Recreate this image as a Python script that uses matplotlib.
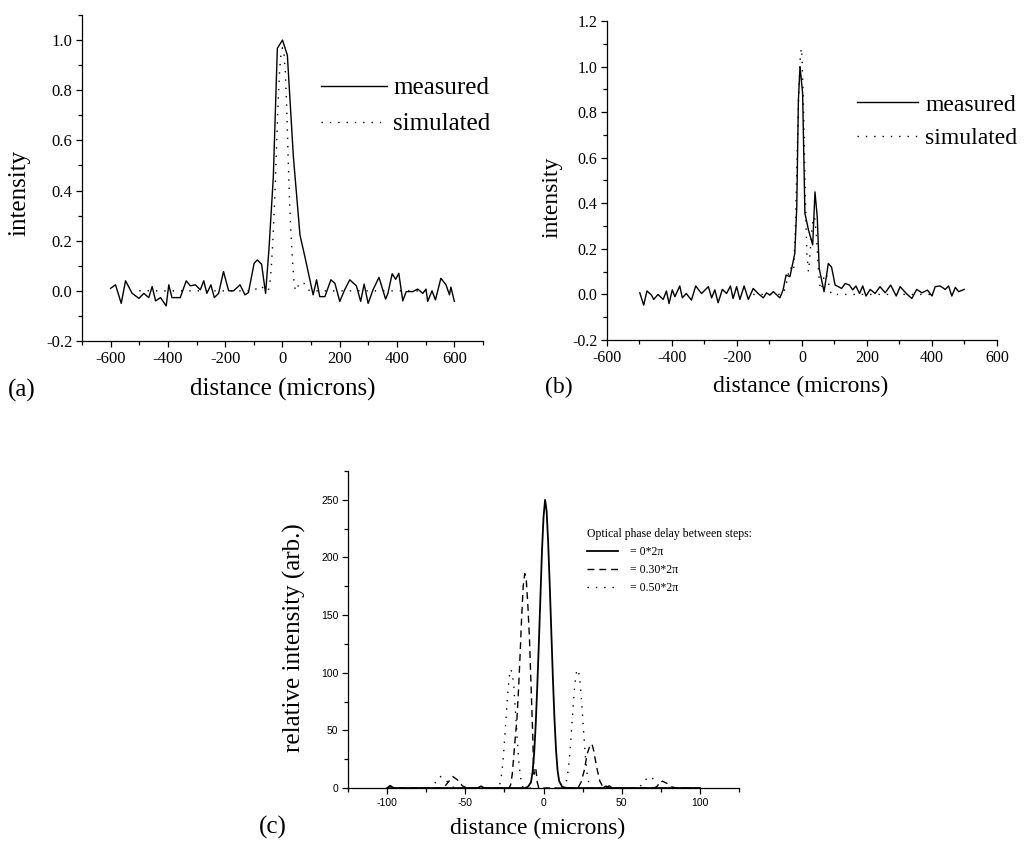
import numpy as np
import matplotlib
matplotlib.use('Agg')
import matplotlib.pyplot as plt
from matplotlib.ticker import MultipleLocator

plt.rcParams['font.family'] = ['Liberation Serif', 'DejaVu Serif']
plt.rcParams['axes.unicode_minus'] = False

# ---- panel (a): measured vs simulated ----
meas_a_x = [-600, -583, -563, -548, -525, -501, -484, -467, -455, -443, -426, -406, -397, -386,
            -357, -336, -322, -304, -287, -275, -264, -250, -238, -223, -206, -188, -171, -148,
            -131, -119, -99, -88, -73, -59, -47, -32, -18, 0, 17, 38, 61, 78, 107, 119, 130,
            148, 169, 183, 200, 217, 235, 258, 273, 285, 299, 316, 337, 360, 368, 383, 395, 406,
            420, 432, 455, 472, 490, 501, 507, 522, 534, 553, 571, 583, 588, 600]
meas_a_y = [0.01, 0.024, -0.05, 0.04, -0.01, -0.03, -0.01, -0.027, 0.017, -0.04, -0.027, -0.06,
            0.024, -0.027, -0.027, 0.04, 0.02, 0.024, 0.004, 0.04, -0.01, 0.024, -0.027, -0.01,
            0.077, 0.0, 0.0, 0.024, -0.016, -0.007, 0.11, 0.123, 0.106, -0.01, 0.17, 0.455, 0.967,
            1.0, 0.94, 0.535, 0.223, 0.137, -0.016, 0.044, -0.023, -0.023, 0.044, 0.03, -0.042,
            0.004, 0.044, 0.02, -0.042, 0.027, -0.05, 0.004, 0.054, -0.033, -0.01, 0.068, 0.046,
            0.07, -0.04, -0.003, -0.003, 0.007, -0.01, 0.007, -0.042, 0.0, -0.036, 0.05, 0.024,
            -0.016, 0.015, -0.042]
sim_a_x = [-500, -100, -85, -75, -62, -50, -45, -40, -35, -30, -25, -20, -15, -10, -5, 0, 5, 10,
           15, 20, 25, 30, 35, 40, 45, 55, 65, 75, 85, 95, 500]
sim_a_y = [0, 0, 0.015, 0.02, 0.005, 0.0, 0.02, 0.08, 0.17, 0.29, 0.43, 0.6, 0.76, 0.88, 0.95,
           0.97, 0.95, 0.87, 0.72, 0.52, 0.35, 0.22, 0.12, 0.04, 0.0, 0.02, 0.035, 0.03, 0.01, 0, 0]

# ---- panel (b): measured vs simulated ----
meas_b_x = [-499, -487, -477, -463, -456, -443, -427, -417, -409, -399, -391, -376, -368, -356,
            -340, -327, -309, -288, -278, -268, -258, -245, -232, -220, -212, -201, -191, -178,
            -165, -150, -135, -119, -109, -99, -88, -68, -58, -49, -37, -22, -16, -11, -6, 2, 9,
            20, 33, 40, 47, 53, 68, 81, 91, 102, 112, 122, 133, 146, 156, 166, 177, 187, 197,
            210, 225, 240, 256, 273, 290, 302, 321, 338, 353, 369, 386, 400, 410, 425, 441, 451,
            461, 472, 482, 499]
meas_b_y = [0.007, -0.047, 0.015, -0.003, -0.022, 0.0, -0.022, 0.015, -0.04, 0.02, -0.01, 0.037,
            -0.015, 0.004, -0.025, 0.037, 0.004, 0.034, -0.015, 0.02, -0.037, 0.022, 0.004, 0.037,
            -0.018, 0.034, -0.022, 0.037, -0.022, 0.026, 0.004, -0.015, 0.007, -0.003, 0.012,
            -0.015, 0.02, 0.085, 0.078, 0.18, 0.385, 0.854, 1.0, 0.883, 0.356, 0.283, 0.217, 0.45,
            0.34, 0.114, 0.012, 0.136, 0.12, 0.041, 0.034, 0.026, 0.048, 0.041, 0.02, 0.037,
            0.004, 0.037, -0.007, 0.022, 0.004, 0.034, 0.007, 0.041, -0.007, 0.034, 0.004,
            -0.018, 0.022, 0.007, 0.019, -0.007, 0.034, 0.037, 0.022, 0.037, -0.007, 0.031,
            0.012, 0.022]
sim_b_x = [-150, -60, -50, -45, -40, -35, -30, -25, -20, -15, -10, -5, -2, 0, 5, 10, 15, 20, 25,
           30, 35, 40, 45, 50, 55, 60, 65, 70, 75, 80, 85, 90, 100, 410]
sim_b_y = [0, 0, 0.03, 0.07, 0.1, 0.12, 0.1, 0.12, 0.3, 0.6, 0.88, 1.05, 1.08, 1.05, 0.8, 0.45,
           0.18, 0.1, 0.18, 0.28, 0.34, 0.33, 0.25, 0.12, 0.04, 0.02, 0.06, 0.09, 0.09, 0.06,
           0.03, 0.0, 0, 0]

# ---- panel (c): simulated phase delays ----
c0_x = [-100, -98, -96, -42, -40, -38, -12, -10, -8, -7, -6, -5, -4, -3, -2, -1, 0, 1, 2, 3, 4,
        5, 6, 7, 8, 9, 10, 12, 15, 38, 40, 42, 100]
c0_y = [0, 2, 0, 0, 1.5, 0, 0, 1, 5, 14, 30, 55, 88, 125, 165, 205, 235, 250, 240, 212, 175,
        135, 95, 60, 33, 15, 6, 1, 0, 0, 1.5, 0, 0]
c30_x = [-100, -64, -61, -58, -55, -52, -49, -22, -21, -20, -19, -18, -17, -16, -15, -14, -13,
         -12, -11, -10, -9, -8, -7, -6.5, -6, -5.5, -5, -4.5, -4, -3, 22, 24, 26, 28, 30, 31,
         32, 34, 36, 38, 40, 42, 44, 71, 74, 76, 79, 82, 85, 100]
c30_y = [0, 0, 5, 10, 7, 2, 0, 0, 3, 12, 28, 45, 60, 85, 115, 148, 175, 186, 180, 158, 130, 90,
         50, 25, 12, 14, 17, 12, 5, 0, 0, 5, 15, 30, 38, 38, 33, 18, 6, 1, 0, 2, 0, 0, 3, 6, 4,
         1, 0, 0]
c50_x = [-100, -72, -69, -66, -63, -60, -57, -29, -28, -27, -26, -25, -24, -23, -22, -21, -20,
         -19, -18, -17, -16, -15, -14, -13, 13, 14, 15, 16, 17, 18, 19, 20, 21, 22, 23, 24, 25,
         26, 27, 28, 29, 30, 61, 64, 67, 70, 73, 76, 100]
c50_y = [0, 0, 5, 10, 8, 3, 0, 0, 3, 10, 22, 40, 60, 80, 96, 103, 100, 88, 68, 46, 26, 12, 4, 0,
         0, 3, 8, 18, 33, 52, 72, 90, 100, 103, 97, 82, 62, 42, 24, 11, 4, 0, 0, 5, 10, 8, 3,
         0, 0]

dotted = (0, (1, 5))
dashed = (0, (5, 3.5))


def clean_axes(ax):
    ax.spines['right'].set_visible(False)
    ax.spines['top'].set_visible(False)
    ax.spines['left'].set_linewidth(0.9)
    ax.spines['bottom'].set_linewidth(0.9)
    ax.tick_params(which='both', direction='out', width=0.9, pad=3)
    ax.tick_params(which='major', length=4)
    ax.tick_params(which='minor', length=3)


fig = plt.figure(figsize=(10.34, 8.43), dpi=100)

# (a)
ax_a = fig.add_axes([0.0793, 0.5955, 0.3878, 0.3867])
ax_a.plot(meas_a_x, meas_a_y, color='black', lw=1.0, label='measured')
ax_a.plot(sim_a_x, sim_a_y, color='black', lw=1.0, ls=dotted, label='simulated')
ax_a.set_xlim(-700, 700)
ax_a.set_ylim(-0.2, 1.1)
ax_a.xaxis.set_minor_locator(MultipleLocator(100))
ax_a.yaxis.set_minor_locator(MultipleLocator(0.1))
ax_a.set_xticks(np.arange(-600, 601, 200))
ax_a.set_yticks(np.round(np.arange(-0.2, 1.01, 0.2), 1))
ax_a.yaxis.set_major_formatter(plt.FormatStrFormatter('%.1f'))
ax_a.tick_params(labelsize=12)
ax_a.set_xlabel('distance (microns)', fontsize=18, va='center')
ax_a.xaxis.set_label_coords(0.501, -0.150)
ax_a.set_ylabel('intensity', fontsize=18, va='center')
ax_a.yaxis.set_label_coords(-0.155, 0.454)
clean_axes(ax_a)
ax_a.legend(loc='upper left', bbox_to_anchor=(321 / 1034, 1 - 77 / 843),
            bbox_transform=fig.transFigure, frameon=False, fontsize=18,
            handlelength=2.64, handletextpad=0.25, labelspacing=0.53,
            borderpad=0, borderaxespad=0)
fig.text(22 / 1034, 1 - 390 / 843, '(a)', fontsize=18, ha='center', va='center')

# (b)
ax_b = fig.add_axes([0.587, 0.5967, 0.3772, 0.3784])
ax_b.plot(meas_b_x, meas_b_y, color='black', lw=1.0, label='measured')
ax_b.plot(sim_b_x, sim_b_y, color='black', lw=1.0, ls=dotted, label='simulated')
ax_b.set_xlim(-600, 600)
ax_b.set_ylim(-0.2, 1.2)
ax_b.xaxis.set_major_locator(MultipleLocator(200))
ax_b.xaxis.set_minor_locator(MultipleLocator(100))
ax_b.yaxis.set_major_locator(MultipleLocator(0.2))
ax_b.yaxis.set_minor_locator(MultipleLocator(0.1))
ax_b.yaxis.set_major_formatter(plt.FormatStrFormatter('%.1f'))
ax_b.tick_params(labelsize=11.5)
ax_b.set_xlabel('distance (microns)', fontsize=17, va='center')
ax_b.xaxis.set_label_coords(0.497, -0.147)
ax_b.set_ylabel('intensity', fontsize=17, va='center')
ax_b.yaxis.set_label_coords(-0.141, 0.448)
clean_axes(ax_b)
ax_b.legend(loc='upper left', bbox_to_anchor=(857 / 1034, 1 - 94 / 843),
            bbox_transform=fig.transFigure, frameon=False, fontsize=17,
            handlelength=2.6, handletextpad=0.3, labelspacing=0.51,
            borderpad=0, borderaxespad=0)
fig.text(559 / 1034, 1 - 387 / 843, '(b)', fontsize=17, ha='center', va='center')

# (c)
ax_c = fig.add_axes([0.3366, 0.0652, 0.3781, 0.3761])
ax_c.plot(c0_x, c0_y, color='black', lw=1.3, label='= 0*2\u03c0')
ax_c.plot(c30_x, c30_y, color='black', lw=1.0, ls=dashed, label='= 0.30*2\u03c0')
ax_c.plot(c50_x, c50_y, color='black', lw=1.0, ls=dotted, label='= 0.50*2\u03c0')
ax_c.set_xlim(-125, 125)
ax_c.set_ylim(0, 275)
ax_c.xaxis.set_major_locator(MultipleLocator(50))
ax_c.xaxis.set_minor_locator(MultipleLocator(25))
ax_c.yaxis.set_major_locator(MultipleLocator(50))
ax_c.yaxis.set_minor_locator(MultipleLocator(25))
ax_c.tick_params(labelsize=7.5, labelfontfamily='Liberation Sans')
ax_c.set_xlabel('distance (microns)', fontsize=17, va='center')
ax_c.xaxis.set_label_coords(0.486, -0.129)
ax_c.set_ylabel('relative intensity (arb.)', fontsize=18, va='center')
ax_c.yaxis.set_label_coords(-0.136, 0.473)
clean_axes(ax_c)
ax_c.legend(loc='upper left', bbox_to_anchor=(587 / 1034, 1 - 528 / 843),
            bbox_transform=fig.transFigure, frameon=False, fontsize=8.5,
            title='Optical phase delay between steps:', title_fontsize=8.5,
            alignment='left', handlelength=2.6, handletextpad=1.0,
            labelspacing=0.5, borderpad=0, borderaxespad=0)
fig.text(273 / 1034, 1 - 827 / 843, '(c)', fontsize=18, ha='center', va='center')

fig.savefig('out.png', dpi=100)
